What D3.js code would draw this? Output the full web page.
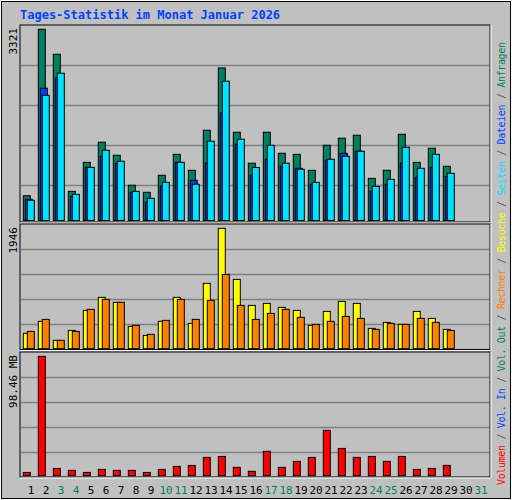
<!DOCTYPE html>
<html>
<head>
<meta charset="utf-8">
<script src="https://cdn.jsdelivr.net/npm/d3@7"></script>
<style>
  body { margin: 0; background: #fff; }
  text { font-family: "DejaVu Sans Mono", monospace; }
</style>
</head>
<body>
<script>
const days = d3.range(1, 32);
const weekend = [3, 4, 10, 11, 17, 18, 24, 25, 31];

const hits = [431, 3321, 2888, 506, 1010, 1360, 1133, 612, 490, 786, 1150, 872, 1568, 2650, 1533, 995, 1533, 1168, 1150, 872, 1307, 1430, 1481, 732, 872, 1498, 1010, 1255, 942, 0, 0];
const files = [369, 2298, 2473, 420, 922, 1115, 995, 490, 317, 593, 1010, 698, 995, 1868, 1325, 786, 1064, 942, 907, 630, 1047, 1168, 1203, 506, 630, 995, 750, 922, 767, 0, 0];
const pages = [351, 2175, 2559, 455, 922, 1220, 1030, 507, 385, 663, 1010, 630, 1378, 2420, 1412, 922, 1307, 995, 890, 663, 1064, 1115, 1203, 593, 715, 1272, 907, 1150, 820, 0, 0];

const visits = [248, 442, 135, 296, 619, 830, 749, 361, 215, 442, 830, 409, 1056, 1946, 1120, 700, 733, 668, 619, 377, 603, 765, 733, 329, 425, 393, 603, 490, 313, 0, 0];
const sites = [280, 474, 135, 280, 636, 797, 749, 377, 232, 458, 797, 474, 781, 1201, 700, 474, 571, 636, 506, 393, 442, 522, 490, 313, 409, 393, 490, 425, 296, 0, 0];

const volume = [2.7, 98.46, 6.0, 4.4, 2.7, 5.2, 4.4, 4.4, 2.7, 5.2, 7.7, 8.5, 15.1, 15.9, 6.9, 3.6, 20.1, 6.9, 11.8, 15.1, 37.4, 22.5, 15.1, 15.9, 11.8, 15.9, 5.2, 6.0, 8.5, 0, 0];

const w = 512, h = 500;
const left = 20, right = 490;

const svg = d3.select("body").append("svg").attr("width", w).attr("height", h);

// background and outer frame
svg.append("rect").attr("width", w).attr("height", h).attr("fill", "#c0c0c0");
svg.append("rect").attr("x", 0.5).attr("y", 0.5).attr("width", w - 1).attr("height", h - 1)
  .attr("fill", "none").attr("stroke", "#fff");
svg.append("rect").attr("x", 1.5).attr("y", 1.5).attr("width", w - 3).attr("height", h - 3)
  .attr("fill", "none").attr("stroke", "#000");

svg.append("text").attr("x", 20).attr("y", 19).attr("fill", "#0040ff")
  .attr("font-size", 12).attr("font-weight", "bold")
  .text("Tages-Statistik im Monat Januar 2026");

const x = d3.scaleBand().domain(days).range([left + 3.3, left + 3.3 + 15 * 31]);

// panels: [top, bottom, base, max-y]
const panels = [
  { top: 25, bottom: 222, base: 220.5, maxY: 29.3, max: 3321, label: "3321" },
  { top: 224, bottom: 349.5, base: 348.7, maxY: 228.3, max: 1946, label: "1946" },
  { top: 352, bottom: 477, base: 475.7, maxY: 356.3, max: 98.46, label: "98.46 MB" }
];

panels.forEach((p, i) => {
  const g = svg.append("g");
  g.append("rect").attr("x", left).attr("y", p.top).attr("width", right - left).attr("height", p.bottom - p.top)
    .attr("fill", "#c0c0c0").attr("stroke", "#000");
  const step = i === 0 ? 40 : 25;
  for (let k = 1; k < 5; k++) {
    g.append("line").attr("x1", left + 1).attr("x2", right - 1)
      .attr("y1", p.top + 0.5 + step * k).attr("y2", p.top + 0.5 + step * k)
      .attr("stroke", "#808080").attr("stroke-width", 1.5);
  }
  g.append("line").attr("x1", left).attr("x2", right).attr("y1", p.bottom + 1).attr("y2", p.bottom + 1)
    .attr("stroke", "#fff");
  g.append("line").attr("x1", right + 1).attr("x2", right + 1).attr("y1", p.top).attr("y2", p.bottom + 1)
    .attr("stroke", "#fff");
  g.append("text").attr("transform", `translate(17,${p.top + 3}) rotate(-90)`)
    .attr("text-anchor", "end").attr("font-size", 11).attr("fill", "#000").text(p.label);
  p.y = d3.scaleLinear().domain([0, p.max]).range([p.base, p.maxY]);
});

function bars(panel, values, offset, color) {
  const y = panel.y;
  svg.append("g").selectAll("rect")
    .data(values.map((v, i) => ({ day: days[i], v })).filter((d) => d.v > 0))
    .join("rect")
    .attr("x", (d) => x(d.day) + offset)
    .attr("y", (d) => y(d.v))
    .attr("width", 7)
    .attr("height", (d) => y(0) - y(d.v))
    .attr("fill", color)
    .attr("stroke", "#000")
    .attr("stroke-width", 1);
}

bars(panels[0], hits, 0, "#008060");
bars(panels[0], files, 2, "#0040ff");
bars(panels[0], pages, 4, "#00e0ff");
bars(panels[1], visits, 0, "#ffff00");
bars(panels[1], sites, 4, "#ff8000");
bars(panels[2], volume, 0, "#ff0000");

// day labels
svg.append("g").selectAll("text").data(days).join("text")
  .attr("x", (d) => x(d) + 7.7)
  .attr("y", 494)
  .attr("text-anchor", "middle")
  .attr("font-size", 11)
  .attr("fill", (d) => (weekend.includes(d) ? "#008060" : "#000"))
  .text((d) => d);

// legend
const legend = [
  ["Volumen", "#ff0000"], ["Vol. In", "#0040ff"], ["Vol. Out", "#008060"],
  ["Rechner", "#ff8000"], ["Besuche", "#ffff00"], ["Seiten", "#00e0ff"],
  ["Dateien", "#0040ff"], ["Anfragen", "#008060"]
];
const lt = svg.append("text").attr("transform", "translate(505,485) rotate(-90)")
  .attr("font-size", 10).attr("textLength", 443).attr("lengthAdjust", "spacing");
legend.forEach((l, i) => {
  if (i > 0) lt.append("tspan").attr("fill", "#606060").text(" / ");
  lt.append("tspan").attr("fill", l[1]).text(l[0]);
});
</script>
</body>
</html>
